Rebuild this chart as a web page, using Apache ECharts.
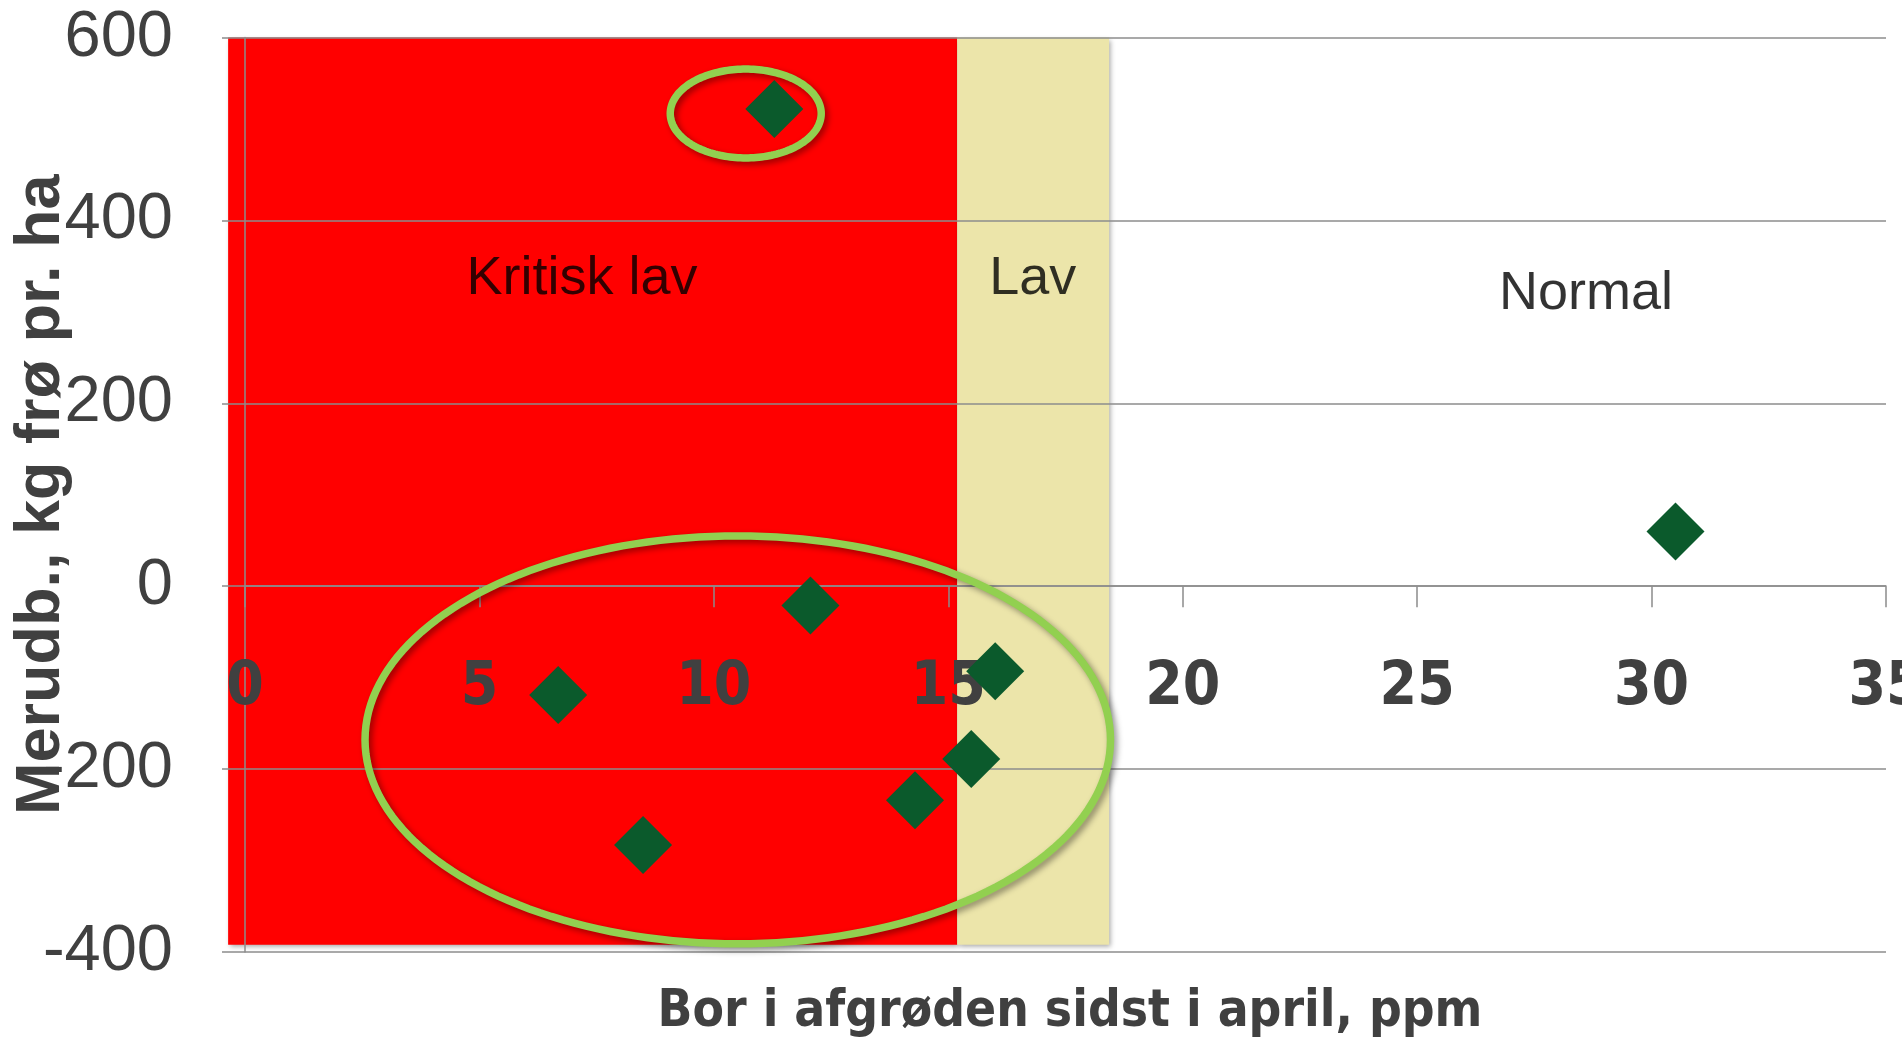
<!DOCTYPE html>
<html>
<head>
<meta charset="utf-8">
<script src="https://cdn.jsdelivr.net/npm/echarts@6/dist/echarts.min.js"></script>
<style>
  html, body { margin: 0; padding: 0; background: #fff; }
  #chart { width: 1902px; height: 1041px; }
</style>
</head>
<body>
<div id="chart"></div>
<script>
// punkter: bor i afgrøden (ppm) og merudbytte (kg frø pr. ha)
const boronPpm = [11.29, 12.06, 6.68, 8.49, 14.29, 15.49, 16.0, 30.51];
const extraYield = [522, -21, -119, -283, -234, -189, -93, 60];

// zoner
const zoneNames = ['Kritisk lav', 'Lav', 'Normal'];
const zoneFrom = [-0.36, 15.19, 18.43];
const zoneTo = [15.19, 18.43, 35];
const zoneColors = ['#ff0000', '#ece5aa', 'rgba(0,0,0,0)'];
const zoneLabelX = [7.19, 16.8, 28.6];
const zoneLabelY = [336, 336, 320];

// ringe om punkter
const ringCx = [10.68, 10.51];
const ringCy = [517, -168];
const ringRx = [1.61, 7.95];
const ringRy = [48.6, 223];

const xMin = 0, xMax = 35, xStep = 5;
const yMin = -400, yMax = 600, yStep = 200;

const grey = '#8c8c8c';
const textGrey = '#404040';
const narrow = '"Liberation Sans Narrow", "DejaVu Sans Condensed", "Liberation Sans", sans-serif';

const chart = echarts.init(document.getElementById('chart'));

const gridTop = 37.6, gridBottom = 89;
const plotH = 1041 - gridTop - gridBottom;
// x-aksen ligger ved y = 0
const zeroOffset = -plotH * (0 - yMin) / (yMax - yMin);

const option = {
  animation: false,
  title: {
    text: 'Bor i afgrøden sidst i april, ppm',
    left: 1065,
    textAlign: 'center',
    top: 982,
    textStyle: { fontFamily: narrow, fontWeight: 'bold', fontSize: 51, color: textGrey }
  },
  grid: { left: 245, right: 16, top: gridTop, bottom: gridBottom, outerBoundsMode: 'none', containLabel: false },
  xAxis: {
    type: 'value',
    min: xMin, max: xMax, interval: xStep,
    position: 'bottom',
    offset: zeroOffset,
    z: 3,
    axisLine: { onZero: false, lineStyle: { color: grey, width: 1.5 } },
    axisTick: { show: true, length: 21, lineStyle: { color: grey, width: 1.5 } },
    axisLabel: { margin: 72, fontFamily: narrow, fontWeight: 'bold', fontSize: 60, color: textGrey },
    splitLine: { show: false }
  },
  yAxis: {
    type: 'value',
    min: yMin, max: yMax, interval: yStep,
    z: 3,
    name: 'Merudb., kg frø pr. ha',
    nameLocation: 'middle',
    nameRotate: 90,
    nameGap: 172,
    nameMoveOverlap: false,
    nameTextStyle: { fontFamily: '"Liberation Sans", Arial, sans-serif', fontWeight: 'bold', fontSize: 63, color: textGrey },
    axisLine: { show: true, onZero: false, lineStyle: { color: grey, width: 1.5 } },
    axisTick: { show: true, length: 23, lineStyle: { color: grey, width: 1.5 } },
    axisLabel: { margin: 72, fontFamily: '"Liberation Sans", Arial, sans-serif', fontSize: 65, color: textGrey },
    splitLine: { show: true, lineStyle: { color: grey, width: 1.5 } }
  },
  series: [
    {
      // baggrundszoner
      type: 'custom',
      z: 1,
      clip: false,
      silent: true,
      data: zoneNames.map((n, i) => [zoneFrom[i], zoneTo[i], i]),
      renderItem: function (params, api) {
        const i = api.value(2);
        const p0 = api.coord([api.value(0), yMax]);
        const p1 = api.coord([api.value(1), yMin + 8]);
        return {
          type: 'rect',
          shape: { x: p0[0], y: p0[1], width: p1[0] - p0[0], height: p1[1] - p0[1] },
          style: {
            fill: zoneColors[i],
            shadowBlur: i < 2 ? 5 : 0,
            shadowColor: 'rgba(0,0,0,0.35)',
            shadowOffsetX: 2,
            shadowOffsetY: 2
          }
        };
      }
    },
    {
      // zonenavne
      type: 'scatter',
      z: 6,
      silent: true,
      symbolSize: 0,
      data: zoneNames.map((n, i) => ({ name: n, value: [zoneLabelX[i], zoneLabelY[i]] })),
      label: {
        show: true,
        position: 'inside',
        formatter: '{b}',
        fontFamily: '"Liberation Sans", Arial, sans-serif',
        fontSize: 54,
        color: '#000'
      }
    },
    {
      // grønne ringe
      type: 'custom',
      z: 4,
      clip: false,
      silent: true,
      data: ringCx.map((c, i) => [c, ringCy[i], ringRx[i], ringRy[i]]),
      renderItem: function (params, api) {
        const c = api.coord([api.value(0), api.value(1)]);
        const s = api.size([api.value(2), api.value(3)]);
        const pts = [];
        for (let k = 0; k < 180; k++) {
          const t = k / 180 * Math.PI * 2;
          pts.push([c[0] + s[0] * Math.cos(t), c[1] + s[1] * Math.sin(t)]);
        }
        return {
          type: 'polygon',
          shape: { points: pts },
          style: {
            fill: 'none',
            stroke: '#92d050',
            lineWidth: 7.5,
            shadowBlur: 6,
            shadowColor: 'rgba(0,0,0,0.4)',
            shadowOffsetX: 3,
            shadowOffsetY: 3
          }
        };
      }
    },
    {
      type: 'scatter',
      z: 5,
      symbol: 'diamond',
      symbolSize: 58,
      itemStyle: { color: '#0b5a2c', opacity: 1 },
      data: boronPpm.map((x, i) => [x, extraYield[i]])
    }
  ]
};

chart.setOption(option);
</script>
</body>
</html>
